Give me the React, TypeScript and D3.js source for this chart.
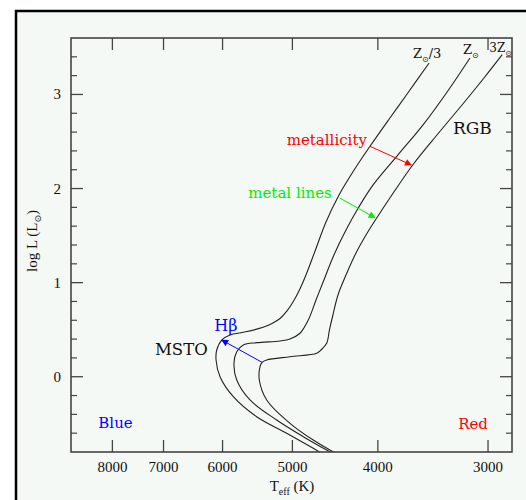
import React from "react";
import * as d3 from "d3";

const W = 526;
const H = 500;

// axis domains / ticks
const X_DOMAIN = [8913, 2818];
const Y_DOMAIN = [-0.8, 3.6];
const X_TICKS = [8000, 7000, 6000, 5000, 4000, 3000];
const Y_MAJOR = [0, 1, 2, 3];
const Y_MINOR = [-0.6, -0.4, -0.2, 0.2, 0.4, 0.6, 0.8, 1.2, 1.4, 1.6, 1.8, 2.2, 2.4, 2.6, 2.8, 3.2, 3.4];

// Z_sun/3 isochrone
const teffLow = [4605, 4735, 5075, 5489, 5834, 6040, 6103, 6092, 6013, 5884, 5683, 5398, 5274, 5164, 5071, 4992, 4915, 4826, 4708, 4580, 4433, 4265, 4083, 3876, 3711, 3499];
const lumLow = [-0.825, -0.761, -0.601, -0.425, -0.212, 0.0, 0.178, 0.284, 0.39, 0.443, 0.472, 0.525, 0.566, 0.619, 0.699, 0.794, 0.911, 1.081, 1.347, 1.644, 1.921, 2.183, 2.449, 2.75, 2.997, 3.334];

// Z_sun isochrone
const teffSun = [4462, 4572, 4860, 5210, 5585, 5782, 5824, 5782, 5683, 5489, 5164, 5032, 4902, 4797, 4701, 4605, 4486, 4347, 4210, 4048, 3799, 3553, 3314, 3145];
const lumSun = [-0.832, -0.779, -0.637, -0.46, -0.247, -0.035, 0.143, 0.266, 0.337, 0.362, 0.38, 0.401, 0.462, 0.603, 0.815, 1.028, 1.294, 1.559, 1.793, 2.041, 2.353, 2.679, 3.069, 3.387];

// 3 Z_sun isochrone
const teffHigh = [4416, 4512, 4735, 5032, 5347, 5451, 5441, 5412, 5347, 5032, 4692, 4641, 4572, 4539, 4498, 4439, 4347, 4246, 4126, 4014, 3836, 3650, 3428, 3211, 3032, 2891];
const lumHigh = [-0.832, -0.789, -0.673, -0.495, -0.247, -0.035, 0.107, 0.153, 0.178, 0.213, 0.249, 0.284, 0.355, 0.497, 0.656, 0.869, 1.081, 1.294, 1.506, 1.684, 1.963, 2.253, 2.569, 2.888, 3.175, 3.423];

// arrows: [T0, L0, T1, L1]
const arrowNames = ["metallicity", "metal lines", "Hbeta"];
const arrowColors = ["#ff0000", "#00ee00", "#0000ff"];
const arrowCoords = [
  [4083, 2.449, 3665, 2.25],
  [4420, 1.9, 4030, 1.69],
  [5412, 0.153, 6013, 0.39],
];

export default function App() {
  const left = 71, right = 512, top = 38, bottom = 452;
  const x = d3.scaleLog().domain(X_DOMAIN).range([left, right]);
  const y = d3.scaleLinear().domain(Y_DOMAIN).range([bottom, top]);

  const line = d3
    .line<[number, number]>()
    .x((d) => x(d[0]))
    .y((d) => y(d[1]))
    .curve(d3.curveCatmullRom.alpha(0.5));

  const curves = [
    d3.zip(teffLow, lumLow) as [number, number][],
    d3.zip(teffSun, lumSun) as [number, number][],
    d3.zip(teffHigh, lumHigh) as [number, number][],
  ];

  const axisColor = "#444";
  const tickFont = "'Liberation Serif', 'Times New Roman', serif";
  const annFont = "'DejaVu Serif', serif";

  return (
    <div style={{ position: "absolute", left: 0, top: 0 }}>
      <svg width={W} height={H} style={{ display: "block" }}>
        <defs>
          <clipPath id="plotclip">
            <rect x={left} y={top} width={right - left} height={bottom - top} />
          </clipPath>
          {arrowColors.map((c, i) => (
            <marker
              key={i}
              id={`ah${i}`}
              viewBox="0 0 10 10"
              refX="9"
              refY="5"
              markerWidth="9"
              markerHeight="7"
              markerUnits="userSpaceOnUse"
              orient="auto"
            >
              <path d="M0,0 L10,5 L0,10 z" fill={c} />
            </marker>
          ))}
        </defs>
        <rect x={0} y={0} width={W} height={H} fill="#ffffff" />
        <rect x={16} y={11} width={W + 20} height={H + 20} fill="#f5f9f5" stroke="#000" strokeWidth={2.5} />

        {/* curves */}
        <g clipPath="url(#plotclip)">
          {curves.map((c, i) => (
            <path key={i} d={line(c) || ""} fill="none" stroke="#222" strokeWidth={1.1} />
          ))}
        </g>

        {/* arrows */}
        {arrowCoords.map((a, i) => (
          <line
            key={arrowNames[i]}
            x1={x(a[0])}
            y1={y(a[1])}
            x2={x(a[2])}
            y2={y(a[3])}
            stroke={arrowColors[i]}
            strokeWidth={1}
            markerEnd={`url(#ah${i})`}
          />
        ))}

        {/* axes frame */}
        <rect x={left} y={top} width={right - left} height={bottom - top} fill="none" stroke={axisColor} strokeWidth={1.6} />

        {/* x ticks */}
        {X_TICKS.map((t) => (
          <g key={t}>
            <line x1={x(t)} x2={x(t)} y1={bottom} y2={bottom - 12} stroke={axisColor} strokeWidth={1.3} />
            <line x1={x(t)} x2={x(t)} y1={top} y2={top + 12} stroke={axisColor} strokeWidth={1.3} />
            <text x={x(t)} y={bottom + 20} textAnchor="middle" fontFamily={tickFont} fontSize={15} fill="#111">
              {t}
            </text>
          </g>
        ))}

        {/* y ticks */}
        {Y_MAJOR.map((t) => (
          <g key={t}>
            <line x1={left} x2={left + 12} y1={y(t)} y2={y(t)} stroke={axisColor} strokeWidth={1.3} />
            <line x1={right} x2={right - 12} y1={y(t)} y2={y(t)} stroke={axisColor} strokeWidth={1.3} />
            <text x={left - 10} y={y(t) + 5} textAnchor="end" fontFamily={tickFont} fontSize={15} fill="#111">
              {t}
            </text>
          </g>
        ))}
        {Y_MINOR.map((t) => (
          <g key={t}>
            <line x1={left} x2={left + 6} y1={y(t)} y2={y(t)} stroke={axisColor} strokeWidth={1.2} />
            <line x1={right} x2={right - 6} y1={y(t)} y2={y(t)} stroke={axisColor} strokeWidth={1.2} />
          </g>
        ))}

        {/* axis titles */}
        <text x={292} y={491} textAnchor="middle" fontFamily={tickFont} fontSize={15} fill="#111">
          <tspan>T</tspan>
          <tspan dy={4} fontSize={10}>eff</tspan>
          <tspan dy={-4}>{"  (K)"}</tspan>
        </text>
        <text
          transform={`translate(37,241) rotate(-90)`}
          textAnchor="middle"
          fontFamily={tickFont}
          fontSize={15}
          fill="#111"
        >
          <tspan>log L (L</tspan>
          <tspan dy={4} fontSize={9} fontFamily="'DejaVu Sans', sans-serif">⊙</tspan>
          <tspan dy={-4}>)</tspan>
        </text>

        {/* curve labels */}
        <text x={x(3650)} y={y(3.387)} fontFamily={annFont} fontSize={13} fill="#111">
          <tspan>Z</tspan>
          <tspan dy={4} fontSize={8} fontFamily="'DejaVu Sans', sans-serif">⊙</tspan>
          <tspan dy={-4}>/3</tspan>
        </text>
        <text x={x(3203)} y={y(3.43)} fontFamily={annFont} fontSize={13} fill="#111">
          <tspan>Z</tspan>
          <tspan dy={4} fontSize={8} fontFamily="'DejaVu Sans', sans-serif">⊙</tspan>
        </text>
        <text x={x(2990)} y={y(3.451)} fontFamily={annFont} fontSize={12} fill="#111">
          <tspan>3Z</tspan>
          <tspan dy={4} fontSize={8} fontFamily="'DejaVu Sans', sans-serif">⊙</tspan>
        </text>

        {/* annotations */}
        <text x={x(3288)} y={y(2.58)} fontFamily={annFont} fontSize={17} fill="#111">RGB</text>
        <text x={x(4116)} y={y(2.463)} textAnchor="end" fontFamily={annFont} fontSize={15} fill="#ff0000">metallicity</text>
        <text x={x(4512)} y={y(1.899)} textAnchor="end" fontFamily={annFont} fontSize={15} fill="#00ee00">metal lines</text>
        <text x={x(6131)} y={y(0.486)} fontFamily={annFont} fontSize={16} fill="#0000ff">Hβ</text>
        <text x={x(7158)} y={y(0.231)} fontFamily={annFont} fontSize={16.5} fill="#111">MSTO</text>
        <text x={x(8299)} y={y(-0.545)} fontFamily={annFont} fontSize={15} fill="#0000ff">Blue</text>
        <text x={x(3243)} y={y(-0.556)} fontFamily={annFont} fontSize={15} fill="#ff0000">Red</text>
      </svg>
    </div>
  );
}
